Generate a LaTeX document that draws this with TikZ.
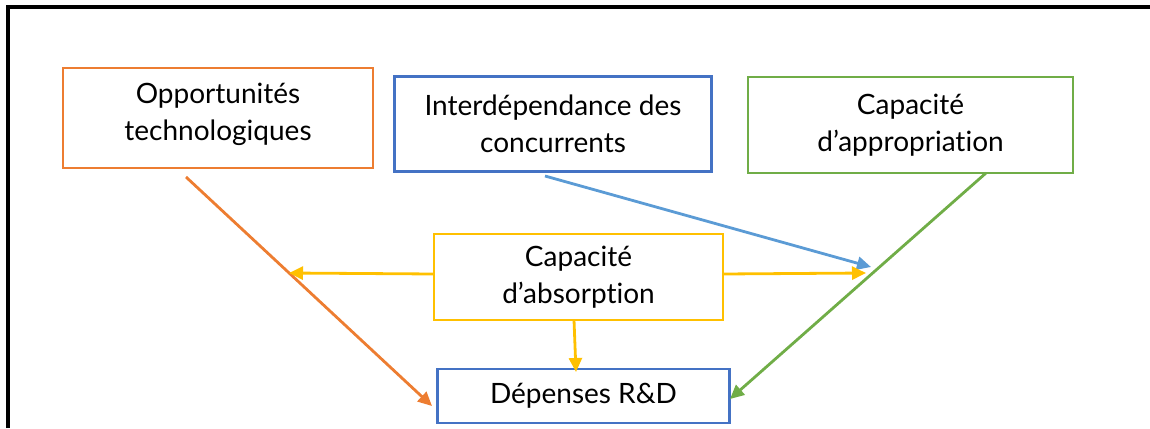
\documentclass[tikz,border=0pt]{standalone}
\usepackage{fontspec}
\setmainfont{Lato}[Ligatures={NoCommon}]
\usetikzlibrary{arrows.meta}
\definecolor{cOrange}{HTML}{ED7D31}
\definecolor{cBlue}{HTML}{4472C4}
\definecolor{cLBlue}{HTML}{5B9BD5}
\definecolor{cGreen}{HTML}{70AD47}
\definecolor{cYellow}{HTML}{FFC000}
\begin{document}
\begin{tikzpicture}[x=1pt,y=-1pt,
  box/.style={draw, line width=2.1pt, fill=white, inner sep=0pt, align=center,
    font=\fontsize{28}{37}\selectfont, text=black},
  conn/.style={line width=2.8pt, -{Triangle[length=14pt,width=13pt]}},
]
\useasboundingbox (0,0) rectangle (1150,428);
% frame
\draw[line width=4pt] (8,428) -- (8,7) -- (1150,7);
% boxes
\node[box, draw=cOrange, minimum width=310pt, minimum height=100pt, text depth=12pt] (opp) at (218,118) {Opportunités\\technologiques};
\node[box, draw=cBlue, minimum width=317pt, minimum height=95pt] (inter) at (553,124) {Interdépendance des\\concurrents};
\node[box, draw=cGreen, minimum width=325pt, minimum height=96pt] (appr) at (910.5,125) {Capacité\\d’appropriation};
\node[box, draw=cYellow, minimum width=289pt, minimum height=86pt] (abs) at (578.5,277) {Capacité\\d’absorption};
\node[box, draw=cBlue, minimum width=292pt, minimum height=54pt] (rd) at (583.5,396) {Dépenses R\&D};
% connector end points
\coordinate (o1) at (186,177);
\coordinate (o2) at (432,406);
\coordinate (b1) at (545,176);
\coordinate (b2) at (871,267);
\coordinate (g1) at (986,173);
\coordinate (g2) at (730,399);
\coordinate (yl1) at (434,274);
\coordinate (yl2) at (289,273);
\coordinate (yr1) at (723,274);
\coordinate (yr2) at (866,273);
\coordinate (yd1) at (574,320);
\coordinate (yd2) at (576,372);
% connectors
\draw[conn, cOrange] (o1) -- (o2);
\draw[conn, cLBlue] (b1) -- (b2);
\draw[conn, cGreen] (g1) -- (g2);
\draw[conn, cYellow] (yl1) -- (yl2);
\draw[conn, cYellow] (yr1) -- (yr2);
\draw[conn, cYellow] (yd1) -- (yd2);
\end{tikzpicture}
\end{document}
